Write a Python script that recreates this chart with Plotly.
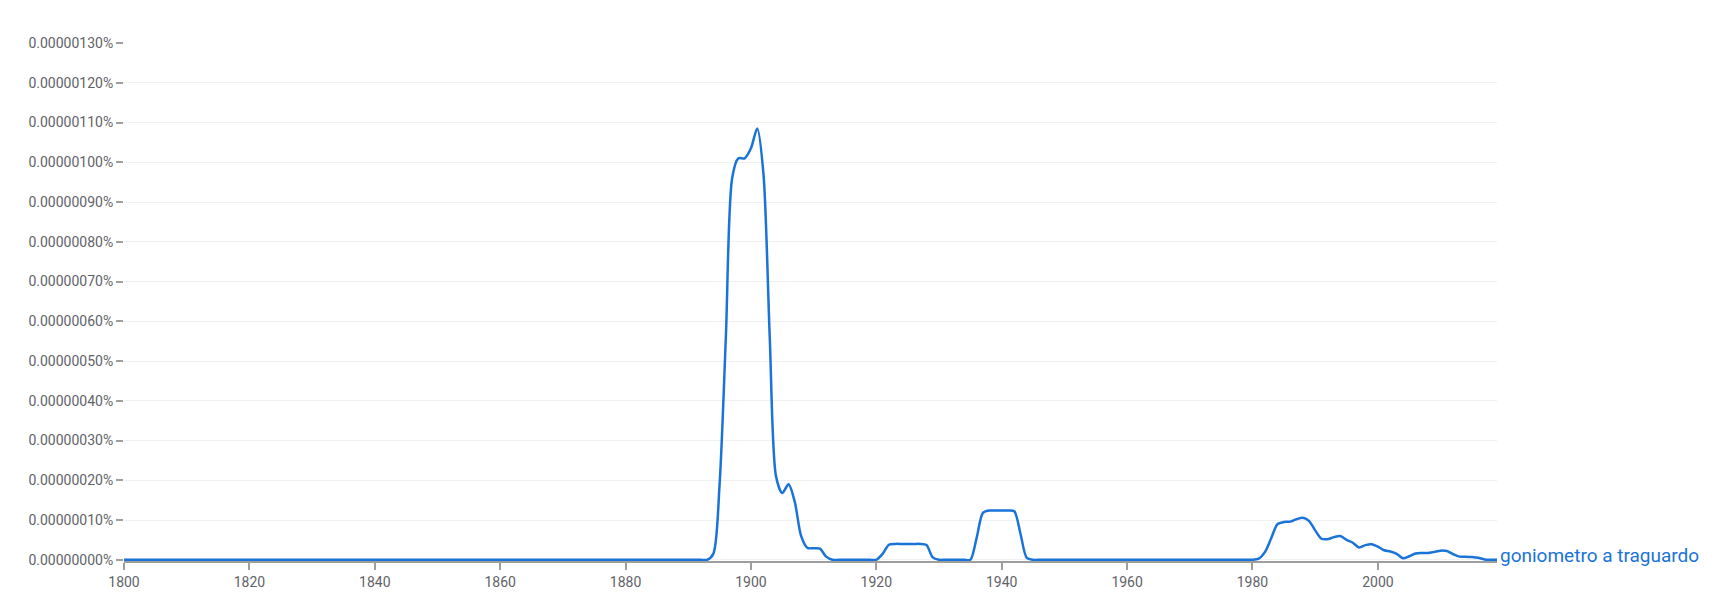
import plotly.graph_objects as go

# Years and values (values in percent)
years = list(range(1800, 2020))

# values in units of 0.0000001 % (1e-7 %)
early_zero = [0.0] * (1893 - 1800 + 1)  # 1800..1893
peak_1894_1913 = [0.15, 1.9, 5.6, 9.6, 10.1, 10.1, 10.35, 10.85, 9.7, 5.6, 2.1,
                  1.68, 1.9, 1.45, 0.6, 0.3, 0.29, 0.28, 0.08, 0.0]  # 1894..1913
mid_zero_1 = [0.0] * (1920 - 1914 + 1)  # 1914..1920
bump_1921_1930 = [0.15, 0.38, 0.40, 0.40, 0.40, 0.40, 0.40, 0.37, 0.06, 0.0]  # 1921..1930
mid_zero_2 = [0.0] * (1935 - 1931 + 1)  # 1931..1935
bump_1936_1945 = [0.55, 1.18, 1.24, 1.24, 1.24, 1.24, 1.22, 0.65, 0.05, 0.0]  # 1936..1945
mid_zero_3 = [0.0] * (1980 - 1946 + 1)  # 1946..1980
late_1981_2019 = [0.03, 0.2, 0.55, 0.9, 0.95, 0.96, 1.02, 1.06, 0.98, 0.74, 0.53,
                  0.52, 0.57, 0.6, 0.5, 0.43, 0.31, 0.37, 0.39, 0.33, 0.24, 0.21,
                  0.15, 0.04, 0.09, 0.16, 0.17, 0.17, 0.2, 0.23, 0.22, 0.14, 0.08,
                  0.08, 0.07, 0.05, 0.01, 0.0, 0.0]  # 1981..2019

units = (early_zero + peak_1894_1913 + mid_zero_1 + bump_1921_1930 + mid_zero_2
         + bump_1936_1945 + mid_zero_3 + late_1981_2019)
values = [u * 1e-7 for u in units]

series_name = "goniometro a traguardo"
tick_years = [1800, 1820, 1840, 1860, 1880, 1900, 1920, 1940, 1960, 1980, 2000]
y_ticks = [i * 1e-7 for i in range(0, 14)]
y_ticktext = ["%.8f%%" % v for v in y_ticks]

line_color = "#1a73d8"
grey_text = "#5f6368"

fig = go.Figure()
fig.add_trace(go.Scatter(
    x=years, y=values, mode="lines",
    line=dict(color=line_color, width=2.5, shape="spline", smoothing=0.8),
    name=series_name, hoverinfo="x+y", showlegend=False,
))

fig.add_annotation(
    x=2019, y=0, xref="x", yref="y", text=series_name, showarrow=False,
    xanchor="left", yanchor="middle", xshift=1, yshift=4,
    font=dict(family="Roboto", size=19, color=line_color),
)

# page body adds an 8px margin; figure sized/offset to compensate
fig.update_layout(
    width=1709, height=581,
    margin=dict(l=116, r=220, t=35, b=28),
    paper_bgcolor="white", plot_bgcolor="white",
    font=dict(family="Roboto", size=14, color=grey_text),
    showlegend=False,
)
fig.update_xaxes(
    range=[1800, 2019], tickvals=tick_years, automargin=False,
    showgrid=False, zeroline=False,
    showline=True, linecolor="#9e9e9e", linewidth=2,
    ticks="outside", ticklen=7, tickwidth=2, tickcolor="#9e9e9e",
    tickfont=dict(family="Roboto", size=14, color=grey_text),
)
fig.update_yaxes(
    range=[-0.03e-7, 13.0e-7], tickvals=y_ticks, ticktext=y_ticktext,
    automargin=False,
    showgrid=True, gridcolor="#f0f0f0", gridwidth=1,
    zeroline=False, showline=False,
    ticks="outside", ticklen=7, tickwidth=2, tickcolor="#9e9e9e",
    tickfont=dict(family="Roboto", size=14, color=grey_text),
)

fig.write_html("out.html")
